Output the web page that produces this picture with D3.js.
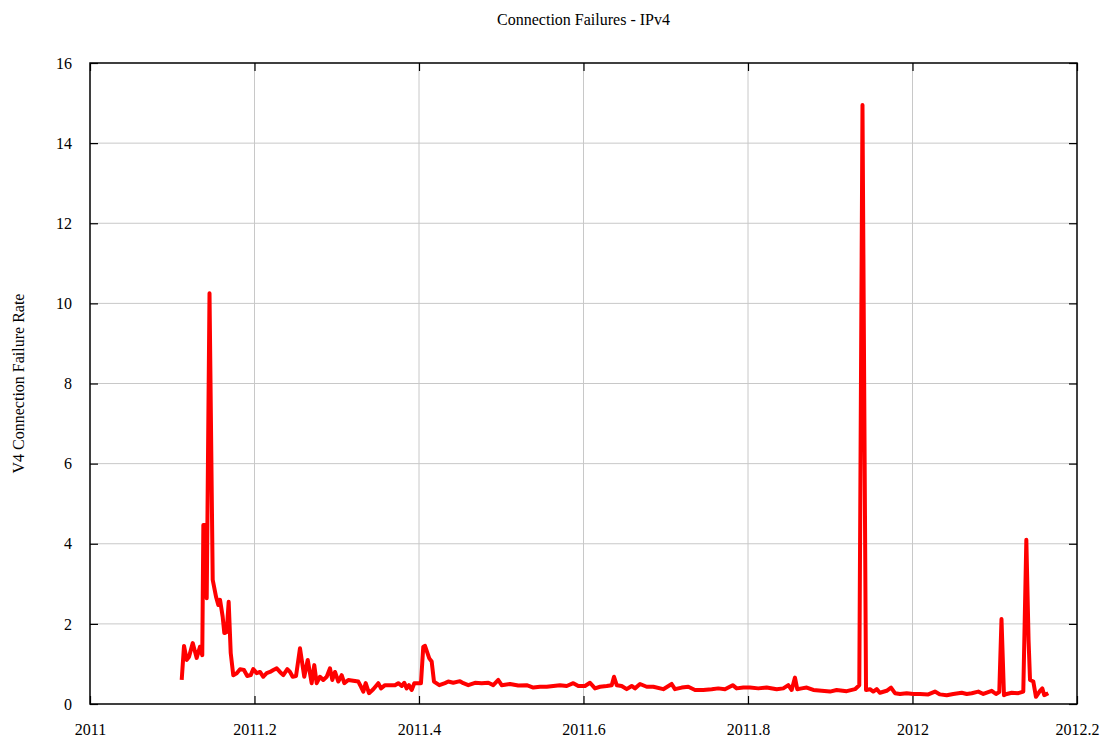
<!DOCTYPE html>
<html><head><meta charset="utf-8">
<script src="https://cdn.jsdelivr.net/npm/d3@7"></script>
<style>body{margin:0;background:#fff}svg{display:block}text{font-family:"Liberation Serif","DejaVu Serif",serif;fill:#000}</style>
</head><body><svg id="c" width="1118" height="746"></svg>
<script>
const title = "Connection Failures - IPv4";
const yLabel = "V4 Connection Failure Rate";
const xTicks = [2011, 2011.2, 2011.4, 2011.6, 2011.8, 2012, 2012.2];
const xTickLabels = ["2011", "2011.2", "2011.4", "2011.6", "2011.8", "2012", "2012.2"];
const yTicks = [0, 2, 4, 6, 8, 10, 12, 14, 16];
const xs = [2011.1115,2011.1143,2011.1176,2011.1204,2011.1249,2011.1297,2011.1337,2011.1365,2011.1378,2011.1398,2011.1419,2011.1453,2011.1492,2011.1532,2011.1560,2011.1581,2011.1613,2011.1633,2011.1662,2011.1686,2011.1711,2011.1742,2011.1784,2011.1824,2011.1872,2011.1912,2011.1954,2011.1985,2011.2027,2011.2067,2011.2107,2011.2148,2011.2188,2011.2229,2011.2270,2011.2310,2011.2350,2011.2399,2011.2432,2011.2464,2011.2505,2011.2553,2011.2605,2011.2647,2011.2695,2011.2727,2011.2756,2011.2796,2011.2836,2011.2878,2011.2918,2011.2946,2011.2979,2011.3019,2011.3060,2011.3092,2011.3140,2011.3201,2011.3262,2011.3295,2011.3323,2011.3352,2011.3392,2011.3444,2011.3505,2011.3538,2011.3587,2011.3647,2011.3708,2011.3748,2011.3790,2011.3821,2011.3850,2011.3878,2011.3911,2011.3943,2011.3992,2011.4024,2011.4052,2011.4073,2011.4125,2011.4154,2011.4182,2011.4247,2011.4316,2011.4356,2011.4417,2011.4498,2011.4539,2011.4599,2011.4681,2011.4762,2011.4843,2011.4903,2011.4964,2011.5005,2011.5106,2011.5207,2011.5309,2011.5390,2011.5471,2011.5553,2011.5633,2011.5714,2011.5796,2011.5876,2011.5937,2011.6018,2011.6079,2011.6140,2011.6201,2011.6282,2011.6343,2011.6371,2011.6404,2011.6464,2011.6525,2011.6586,2011.6626,2011.6687,2011.6768,2011.6849,2011.6970,2011.7072,2011.7112,2011.7194,2011.7274,2011.7356,2011.7456,2011.7559,2011.7639,2011.7720,2011.7814,2011.7862,2011.7943,2011.8024,2011.8125,2011.8227,2011.8349,2011.8429,2011.8490,2011.8531,2011.8571,2011.8599,2011.8653,2011.8714,2011.8794,2011.8896,2011.8997,2011.9078,2011.9200,2011.9301,2011.9353,2011.9392,2011.9435,2011.9483,2011.9523,2011.9565,2011.9605,2011.9686,2011.9739,2011.9787,2011.9848,2011.9929,2012.0010,2012.0091,2012.0192,2012.0273,2012.0334,2012.0416,2012.0496,2012.0598,2012.0659,2012.0720,2012.0800,2012.0861,2012.0963,2012.1015,2012.1055,2012.1082,2012.1112,2012.1145,2012.1206,2012.1286,2012.1347,2012.1384,2012.1411,2012.1429,2012.1469,2012.1501,2012.1550,2012.1578,2012.1602,2012.1651];
const ys = [0.60,1.45,1.10,1.18,1.52,1.15,1.43,1.22,4.47,4.47,2.64,10.25,3.10,2.68,2.47,2.60,2.18,1.77,1.80,2.55,1.27,0.72,0.77,0.87,0.85,0.70,0.72,0.87,0.77,0.80,0.68,0.77,0.80,0.85,0.89,0.80,0.72,0.87,0.80,0.68,0.70,1.39,0.68,1.10,0.52,0.97,0.52,0.68,0.60,0.68,0.89,0.60,0.80,0.56,0.72,0.52,0.60,0.58,0.56,0.43,0.31,0.52,0.27,0.37,0.52,0.39,0.47,0.47,0.47,0.52,0.45,0.53,0.39,0.47,0.35,0.52,0.52,0.52,1.43,1.45,1.14,1.06,0.56,0.47,0.52,0.56,0.53,0.57,0.52,0.47,0.53,0.52,0.53,0.47,0.60,0.47,0.50,0.46,0.47,0.41,0.43,0.43,0.45,0.47,0.45,0.52,0.45,0.45,0.53,0.39,0.43,0.45,0.47,0.68,0.47,0.45,0.37,0.45,0.39,0.50,0.43,0.43,0.37,0.50,0.37,0.41,0.43,0.35,0.35,0.37,0.39,0.37,0.47,0.39,0.41,0.41,0.39,0.41,0.37,0.39,0.47,0.35,0.66,0.37,0.39,0.41,0.35,0.33,0.31,0.35,0.32,0.37,0.47,14.95,0.35,0.37,0.31,0.37,0.28,0.33,0.41,0.27,0.25,0.27,0.25,0.25,0.24,0.31,0.24,0.22,0.25,0.28,0.25,0.27,0.31,0.25,0.33,0.25,0.30,2.12,0.22,0.25,0.28,0.27,0.31,4.10,1.60,0.60,0.56,0.18,0.33,0.39,0.22,0.27];

const svg = d3.select("#c");
const m = {l:90, r:1077, t:63, b:704};
const x = d3.scaleLinear().domain([2011, 2012.2]).range([m.l, m.r]);
const y = d3.scaleLinear().domain([0, 16]).range([m.b, m.t]);

// grid
svg.append("g").selectAll("line.gx").data(xTicks.slice(1,-1)).join("line")
  .attr("x1", d=>x(d)).attr("x2", d=>x(d)).attr("y1", m.t).attr("y2", m.b)
  .attr("stroke", "#c8c8c8").attr("stroke-width", 1);
svg.append("g").selectAll("line.gy").data(yTicks.slice(1,-1)).join("line")
  .attr("y1", d=>y(d)).attr("y2", d=>y(d)).attr("x1", m.l).attr("x2", m.r)
  .attr("stroke", "#c8c8c8").attr("stroke-width", 1);

// axes with inward ticks
const tl = 8;
const axB = d3.axisBottom(x).tickValues(xTicks).tickFormat((d,i)=>xTickLabels[i]).tickSizeInner(-tl).tickSizeOuter(0).tickPadding(tl+12);
const axT = d3.axisTop(x).tickValues(xTicks).tickFormat("").tickSizeInner(-tl).tickSizeOuter(0);
const axL = d3.axisLeft(y).tickValues(yTicks).tickFormat(d3.format("d")).tickSizeInner(-tl).tickSizeOuter(0).tickPadding(tl+10);
const axR = d3.axisRight(y).tickValues(yTicks).tickFormat("").tickSizeInner(-tl).tickSizeOuter(0);
function style(g){ g.select(".domain").remove(); g.selectAll("line").attr("stroke","#000").attr("stroke-width",1.2);
  g.selectAll("text").style("font-size","16px").style("font-family",'"Liberation Serif",serif'); }
svg.append("g").attr("transform",`translate(0,${m.b})`).call(axB).call(style);
svg.append("g").attr("transform",`translate(0,${m.t})`).call(axT).call(style);
svg.append("g").attr("transform",`translate(${m.l},0)`).call(axL).call(style);
svg.append("g").attr("transform",`translate(${m.r},0)`).call(axR).call(style);

// border
svg.append("rect").attr("x", m.l).attr("y", m.t).attr("width", m.r-m.l).attr("height", m.b-m.t)
  .attr("fill","none").attr("stroke","#000").attr("stroke-width",1.5);

// line
const data = xs.map((d,i)=>({x:d, y:ys[i]}));
svg.append("path").datum(data)
  .attr("d", d3.line().x(d=>x(d.x)).y(d=>y(d.y)))
  .attr("fill","none").attr("stroke","#ff0000").attr("stroke-width",4).attr("stroke-linejoin","round");

svg.append("text").attr("x", (m.l+m.r)/2).attr("y", 25).attr("text-anchor","middle").style("font-size","16px").text(title);
svg.append("text").attr("transform",`translate(24,${(m.t+m.b)/2}) rotate(-90)`).attr("text-anchor","middle").style("font-size","16px").text(yLabel);
</script></body></html>
